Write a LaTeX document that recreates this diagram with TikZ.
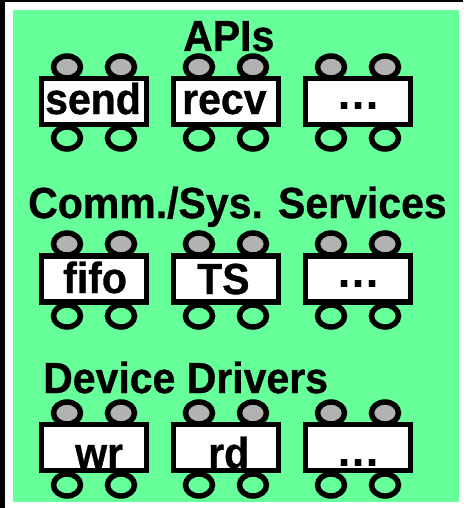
\documentclass[tikz,border=0pt]{standalone}
\usepackage{fontspec}
\setmainfont{Liberation Sans}[BoldFeatures={FakeBold=0.8}]
\newfontfamily\dotfont{DejaVu Sans}
\usetikzlibrary{shapes.geometric}
\definecolor{panelgreen}{RGB}{102,255,153}
\definecolor{portgray}{RGB}{178,178,178}
\tikzset{
  label/.style={inner sep=0pt, font=\fontsize{41}{41}\selectfont\bfseries},
  dotlabel/.style={inner sep=0pt, font=\fontsize{37}{37}\selectfont\dotfont\bfseries},
  compbox/.style={draw, line width=5.5pt, fill=white, minimum width=105pt,
    minimum height=46pt, inner sep=0pt},
  inport/.style={ellipse, draw, line width=5.5pt, fill=portgray,
    minimum width=27pt, minimum height=22pt, inner sep=0pt},
  outport/.style={ellipse, draw, line width=5.5pt,
    minimum width=27pt, minimum height=22pt, inner sep=0pt},
}
\newcommand{\tallword}[1]{\scalebox{1}[1.06]{#1}}
\begin{document}
\begin{tikzpicture}[x=1pt,y=-1pt]
  \useasboundingbox (0,0) rectangle (463,508);
  % frame and panel
  \fill[white] (0,0) rectangle (463,508);
  \fill[black] (0,0) rectangle (5,508);
  \fill[black] (0,0) rectangle (463,2);
  \fill[panelgreen] (13,10) rectangle (459,502);

  % layer titles
  \node[label, anchor=base west] (tapi) at (183,51) {\tallword{APIs}};
  \node[label, anchor=base west] (tsvc) at (28,218) {\tallword{Comm./Sys. Services}};
  \node[label, anchor=base west] (tdrv) at (43,393) {\tallword{Device Drivers}};

  % ports (drawn first so the boxes cover them)
  \foreach \r/\cy/\ty/\by in {1/101.5/67/138, 2/279/244/316, 3/447.5/413/485}{
    \foreach \c/\cx in {1/94, 2/226, 3/358}{
      \node[inport]  (pi\r\c a) at (\cx-27,\ty) {};
      \node[inport]  (pi\r\c b) at (\cx+27,\ty) {};
      \node[outport] (po\r\c a) at (\cx-27,\by) {};
      \node[outport] (po\r\c b) at (\cx+27,\by) {};
      \node[compbox] (box\r\c) at (\cx,\cy) {};
    }
  }

  % component names
  \node[label, anchor=base west] (lsend) at (45,114) {\tallword{send}};
  \node[label, anchor=base west] (lrecv) at (182,114) {\tallword{recv}};
  \node[dotlabel, anchor=base west] (ldots1) at (337,110) {...};
  \node[label, anchor=base west] (lfifo) at (63,293) {\tallword{fifo}};
  \node[label, anchor=base west] (lts) at (197,294) {\tallword{TS}};
  \node[dotlabel, anchor=base west] (ldots2) at (337,287) {...};
  \node[label, anchor=base west] (lwr) at (75,468) {\tallword{wr}};
  \node[label, anchor=base west] (lrd) at (208,468) {\tallword{rd}};
  \node[dotlabel, anchor=base west] (ldots3) at (337,466) {...};
\end{tikzpicture}
\end{document}
